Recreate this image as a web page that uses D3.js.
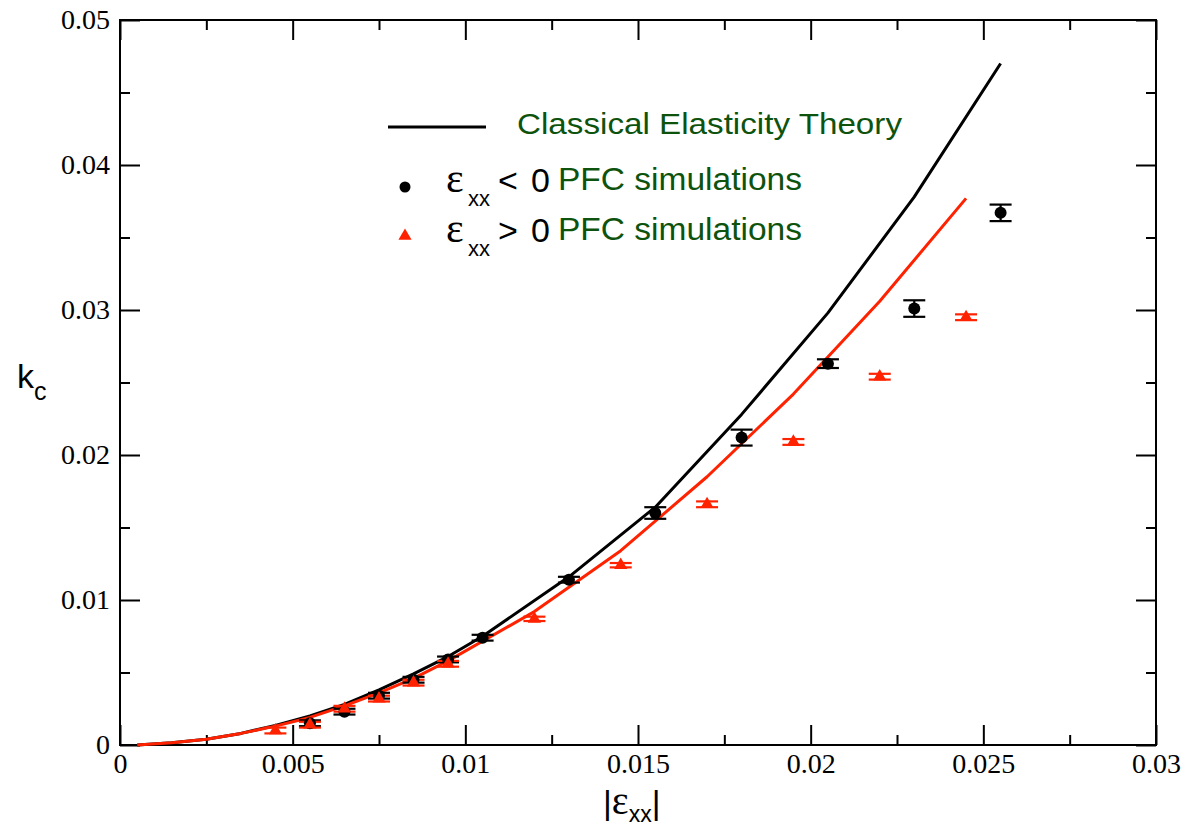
<!DOCTYPE html>
<html>
<head>
<meta charset="utf-8">
<script src="https://cdn.jsdelivr.net/npm/d3@7"></script>
<style>
  body { margin: 0; background: #fff; }
  svg { display: block; }
</style>
</head>
<body>
<svg width="1194" height="829"></svg>
<script>
// classical elasticity theory curves
const theoryNegX = [0.0005, 0.0015, 0.0025, 0.0035, 0.0045, 0.0055, 0.0065, 0.0075, 0.0085, 0.0095, 0.0105, 0.013, 0.0155, 0.018, 0.0205, 0.023, 0.0255]
const theoryNegK = [0.0, 0.00015, 0.0004, 0.0008, 0.00135, 0.0020, 0.0028, 0.0038, 0.0049, 0.0061, 0.0075, 0.0116, 0.0164, 0.0228, 0.0298, 0.0378, 0.0470]
const theoryPosX = [0.0005, 0.0015, 0.0025, 0.0035, 0.0045, 0.0055, 0.0065, 0.0075, 0.0085, 0.0095, 0.012, 0.0145, 0.017, 0.0195, 0.022, 0.0245]
const theoryPosK = [0.0, 0.00015, 0.0004, 0.0008, 0.0013, 0.0019, 0.0027, 0.0036, 0.0046, 0.0058, 0.0092, 0.0134, 0.0185, 0.0242, 0.0306, 0.0377]

// PFC simulations
const simNegX = [0.0055, 0.0065, 0.0075, 0.0085, 0.0095, 0.0105, 0.013, 0.0155, 0.018, 0.0205, 0.023, 0.0255]
const simNegK = [0.0015, 0.0023, 0.0034, 0.0045, 0.0059, 0.0074, 0.0114, 0.0160, 0.0212, 0.0263, 0.0301, 0.0367]
const simNegErr = [0.0002, 0.0002, 0.0002, 0.0002, 0.0002, 0.0002, 0.0002, 0.0004, 0.00055, 0.0003, 0.00057, 0.00057]
const simPosX = [0.0045, 0.0055, 0.0065, 0.0075, 0.0085, 0.0095, 0.012, 0.0145, 0.017, 0.0195, 0.022, 0.0245]
const simPosK = [0.0010, 0.0014, 0.0025, 0.0032, 0.0043, 0.0056, 0.0087, 0.0124, 0.0166, 0.0209, 0.0254, 0.0295]
const simPosErr = [0.0002, 0.0002, 0.0002, 0.0002, 0.0002, 0.0002, 0.00015, 0.00015, 0.0002, 0.0002, 0.0002, 0.0002]

// ticks
const xMajor = [0, 0.005, 0.01, 0.015, 0.02, 0.025, 0.03]
const xMinor = [0.0025, 0.0075, 0.0125, 0.0175, 0.0225, 0.0275]
const yMajor = [0, 0.01, 0.02, 0.03, 0.04, 0.05]
const yMinor = [0.005, 0.015, 0.025, 0.035, 0.045]

const red = '#ff2200'
const green = '#0d530d'
const sans = '"Liberation Sans", Arial, sans-serif'
const serif = '"Liberation Serif", Tinos, serif'

const svg = d3.select('svg')
const pL = 120, pR = 1156, pT = 20, pB = 745

const x = d3.scaleLinear().domain([0, 0.03]).range([pL, pR])
const y = d3.scaleLinear().domain([0, 0.05]).range([pB, pT])

const fmt = d => d === 0 ? '0' : String(+d.toFixed(4))

// axes with inward ticks, mirrored on top/right
function axes() {
    svg.append('g').attr('transform', `translate(0,${pB})`)
        .call(d3.axisBottom(x).tickValues(xMajor).tickFormat(fmt).tickSize(-20).tickPadding(8).tickSizeOuter(0))
    svg.append('g').attr('transform', `translate(0,${pB})`)
        .call(d3.axisBottom(x).tickValues(xMinor).tickFormat('').tickSize(-10).tickSizeOuter(0))
    svg.append('g').attr('transform', `translate(0,${pT})`)
        .call(d3.axisTop(x).tickValues(xMajor).tickFormat('').tickSize(-20).tickSizeOuter(0))
    svg.append('g').attr('transform', `translate(0,${pT})`)
        .call(d3.axisTop(x).tickValues(xMinor).tickFormat('').tickSize(-10).tickSizeOuter(0))

    svg.append('g').attr('transform', `translate(${pL},0)`)
        .call(d3.axisLeft(y).tickValues(yMajor).tickFormat(fmt).tickSize(-20).tickPadding(10).tickSizeOuter(0))
    svg.append('g').attr('transform', `translate(${pL},0)`)
        .call(d3.axisLeft(y).tickValues(yMinor).tickFormat('').tickSize(-10).tickSizeOuter(0))
    svg.append('g').attr('transform', `translate(${pR},0)`)
        .call(d3.axisRight(y).tickValues(yMajor).tickFormat('').tickSize(-20).tickSizeOuter(0))
    svg.append('g').attr('transform', `translate(${pR},0)`)
        .call(d3.axisRight(y).tickValues(yMinor).tickFormat('').tickSize(-10).tickSizeOuter(0))

    svg.selectAll('.domain').remove()
    svg.selectAll('.tick line').attr('stroke', '#000').attr('stroke-width', 2)
    svg.selectAll('.tick text')
        .attr('fill', '#000')
        .style('font-family', serif).style('font-size', '28px')

    svg.append('rect')
        .attr('x', pL).attr('y', pT)
        .attr('width', pR - pL).attr('height', pB - pT)
        .attr('fill', 'none').attr('stroke', '#000').attr('stroke-width', 2)
}
axes()

// theory lines
const line = d3.line().x(d => x(d[0])).y(d => y(d[1]))
svg.append('path')
    .datum(d3.zip(theoryNegX, theoryNegK))
    .attr('d', line).attr('fill', 'none').attr('stroke', '#000').attr('stroke-width', 3)
    .attr('stroke-linejoin', 'round')
svg.append('path')
    .datum(d3.zip(theoryPosX, theoryPosK))
    .attr('d', line).attr('fill', 'none').attr('stroke', red).attr('stroke-width', 3)
    .attr('stroke-linejoin', 'round')

// error bars
function errorBars(xs, ks, errs, color) {
    const g = svg.append('g').attr('stroke', color).attr('stroke-width', 2.2)
    const data = d3.zip(xs, ks, errs)
    g.selectAll('line.v').data(data).join('line').attr('class', 'v')
        .attr('x1', d => x(d[0])).attr('x2', d => x(d[0]))
        .attr('y1', d => y(d[1] - d[2])).attr('y2', d => y(d[1] + d[2]))
    g.selectAll('line.top').data(data).join('line').attr('class', 'top')
        .attr('x1', d => x(d[0]) - 11).attr('x2', d => x(d[0]) + 11)
        .attr('y1', d => y(d[1] + d[2])).attr('y2', d => y(d[1] + d[2]))
    g.selectAll('line.bot').data(data).join('line').attr('class', 'bot')
        .attr('x1', d => x(d[0]) - 11).attr('x2', d => x(d[0]) + 11)
        .attr('y1', d => y(d[1] - d[2])).attr('y2', d => y(d[1] - d[2]))
}
errorBars(simNegX, simNegK, simNegErr, '#000')
errorBars(simPosX, simPosK, simPosErr, red)

// markers
svg.append('g').selectAll('circle')
    .data(d3.zip(simNegX, simNegK))
    .join('circle')
    .attr('cx', d => x(d[0])).attr('cy', d => y(d[1]))
    .attr('r', 6).attr('fill', '#000')

const tri = d3.symbol().type(d3.symbolTriangle).size(75)
svg.append('g').selectAll('path')
    .data(d3.zip(simPosX, simPosK))
    .join('path')
    .attr('transform', d => `translate(${x(d[0])},${y(d[1])})`)
    .attr('d', tri).attr('fill', red)

// axis labels
const kLabel = svg.append('text')
    .attr('x', 17).attr('y', 388)
    .style('font-family', sans).style('font-size', '34px')
kLabel.append('tspan').text('k')
kLabel.append('tspan').attr('dy', 12).style('font-size', '25px').text('c')

const eLabel = svg.append('text')
    .attr('x', 603).attr('y', 814)
    .style('font-family', sans).style('font-size', '34px')
eLabel.append('tspan').text('|')
eLabel.append('tspan').style('font-family', serif).style('font-size', '40px').text('ε')
eLabel.append('tspan').attr('dy', 8).style('font-size', '23px').text('xx')
eLabel.append('tspan').attr('dy', -8).text('|')

// legend
svg.append('line')
    .attr('x1', 388).attr('x2', 486).attr('y1', 127).attr('y2', 127)
    .attr('stroke', '#000').attr('stroke-width', 3)
svg.append('text')
    .attr('x', 517).attr('y', 134)
    .attr('textLength', 385).attr('lengthAdjust', 'spacingAndGlyphs')
    .style('font-family', sans).style('font-size', '30px').attr('fill', green)
    .text('Classical Elasticity Theory')

svg.append('circle').attr('cx', 405).attr('cy', 187).attr('r', 5.5).attr('fill', '#000')
svg.append('path').attr('transform', 'translate(405,236)').attr('d', tri).attr('fill', red)

function legendRow(yBase, sign) {
    const t = svg.append('text')
        .attr('y', yBase)
        .style('font-family', sans).style('font-size', '34px')
    t.append('tspan').attr('x', 446).style('font-family', serif).style('font-size', '42px').text('ε')
    t.append('tspan').attr('x', 468).attr('dy', 14).style('font-size', '22px').text('xx')
    t.append('tspan').attr('x', 498).attr('dy', -14).text(sign)
    t.append('tspan').attr('x', 531).text('0')
    svg.append('text')
        .attr('x', 558).attr('y', yBase - 2)
        .attr('textLength', 244).attr('lengthAdjust', 'spacingAndGlyphs')
        .style('font-family', sans).style('font-size', '31px').attr('fill', green)
        .text('PFC simulations')
}
legendRow(192, '<')
legendRow(242, '>')
</script>
</body>
</html>
